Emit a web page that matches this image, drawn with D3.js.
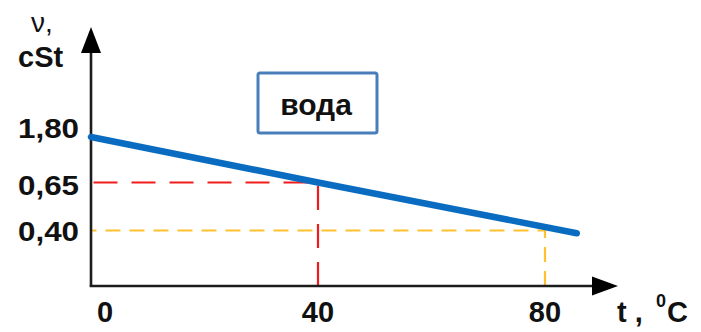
<!DOCTYPE html>
<html><head><meta charset="utf-8">
<script src="https://cdn.jsdelivr.net/npm/d3@7"></script>
<style>
html,body{margin:0;padding:0;background:#fff;}
svg{display:block;}
text{font-family:"Liberation Sans",Arial,sans-serif;fill:#111;}
</style></head>
<body>
<script>
// ---- data ----
const temps = [0, 40, 85.6];          // t, °C
const visc  = [1.80, 0.65, 0.38];     // ν, cSt
const yTicks = [1.80, 0.65, 0.40];
const yTickLabels = ["1,80", "0,65", "0,40"];
const xTicks = [0, 40, 80];
const xTickLabels = ["0", "40", "80"];
const guideT = [40, 80];
const guideV = [0.65, 0.40];
const fluidName = "вода";

const W = 701, H = 332;
const svg = d3.select("body").append("svg").attr("width", W).attr("height", H);

// schematic (non-uniform) scales
const x = d3.scaleLinear().domain([0, 80]).range([91, 545]);
const y = d3.scaleLinear().domain([0, 0.40, 0.65, 1.80]).range([286, 230.5, 182.5, 137]);

const axisColor = "#1c1c1c";

// guide lines
const guideColors = ["#f01c1c", "#ffc12e"];
const guideDash = ["24,14", "15,9"];
guideT.forEach((t, i) => {
  const path = d3.path();
  path.moveTo(x(t), y(0));
  path.lineTo(x(t), y(guideV[i]));
  path.lineTo(x(0), y(guideV[i]));
  svg.append("path").attr("d", path.toString())
    .attr("fill", "none").attr("stroke", guideColors[i])
    .attr("stroke-width", 2.2).attr("stroke-dasharray", guideDash[i]);
});

// axes
svg.append("line").attr("x1", x(0)).attr("y1", y(0)).attr("x2", x(0)).attr("y2", 48)
  .attr("stroke", axisColor).attr("stroke-width", 2.6);
svg.append("line").attr("x1", x(0) - 1.3).attr("y1", y(0)).attr("x2", 596).attr("y2", y(0))
  .attr("stroke", axisColor).attr("stroke-width", 2.6);
svg.append("path").attr("d", `M${x(0)},27 L${x(0)-10},53 L${x(0)+10},53 Z`).attr("fill", "#000");
svg.append("path").attr("d", `M618,${y(0)} L592,${y(0)-9.5} L592,${y(0)+9.5} Z`).attr("fill", "#000");

// data line
svg.append("path").datum(temps.map((t, i) => [t, visc[i]]))
  .attr("d", d3.line().x(d => x(d[0])).y(d => y(d[1])))
  .attr("fill", "none").attr("stroke", "#0a6cc0").attr("stroke-width", 6.5)
  .attr("stroke-linecap", "round");

// y tick labels
const yNudge = [-9, 2, 0];
svg.selectAll(".yl").data(yTicks).enter().append("text")
  .attr("x", 79).attr("y", (d, i) => y(d) + yNudge[i] + 10)
  .attr("text-anchor", "end").attr("font-size", 28).attr("font-weight", "bold")
  .attr("textLength", 61).attr("lengthAdjust", "spacingAndGlyphs")
  .text((d, i) => yTickLabels[i]);

// x tick labels
const xNudge = [14, 0, 0];
svg.selectAll(".xl").data(xTicks).enter().append("text")
  .attr("x", (d, i) => x(d) + xNudge[i]).attr("y", 322)
  .attr("text-anchor", "middle").attr("font-size", 29).attr("font-weight", "bold")
  .text((d, i) => xTickLabels[i]);

// axis titles
svg.append("text").attr("x", 31).attr("y", 32).attr("font-size", 28).text("ν,");
svg.append("text").attr("x", 18).attr("y", 67).attr("font-size", 29).attr("font-weight", "bold").text("cSt");
const xt = svg.append("text").attr("x", 617).attr("y", 322).attr("font-size", 29).attr("font-weight", "bold");
xt.append("tspan").text("t ,");
xt.append("tspan").attr("x", 656).attr("y", 307).attr("font-size", 18).text("0");
xt.append("tspan").attr("x", 667).attr("y", 322).text("C");

// label box
svg.append("rect").attr("x", 258).attr("y", 73).attr("width", 119).attr("height", 60)
  .attr("rx", 2).attr("fill", "#fff").attr("stroke", "#4a7ebb").attr("stroke-width", 3);
svg.append("text").attr("x", 316).attr("y", 115).attr("text-anchor", "middle")
  .attr("font-size", 30).attr("font-weight", "bold").text(fluidName);
</script>
</body></html>
